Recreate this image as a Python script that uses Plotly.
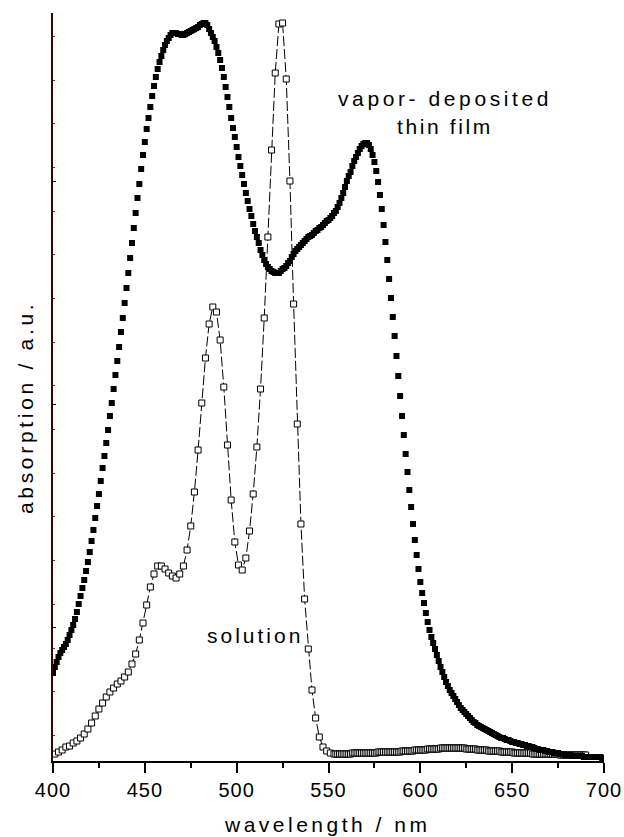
import plotly.graph_objects as go

# Absorption spectra, absorbance in milli-units (a.u.)
film_nm = list(range(400, 701))
film_abs = [
    88, 94, 99, 104, 108, 111, 114, 117, 121, 126,
    131, 136, 142, 149, 157, 165, 173, 181, 190, 199,
    209, 220, 231, 243, 255, 267, 280, 293, 305, 318,
    331, 345, 358, 372, 386, 400, 414, 429, 443, 458,
    473, 488, 503, 518, 533, 548, 563, 577, 592, 606,
    619, 632, 643, 654, 665, 675, 684, 692, 699, 705,
    711, 716, 720, 723, 726, 728, 728, 728, 727, 727,
    726, 726, 727, 728, 729, 730, 731, 732, 733, 734,
    736, 737, 738, 738, 736, 732, 728, 724, 720, 714,
    708, 701, 693, 684, 674, 664, 654, 643, 633, 624,
    614, 604, 595, 586, 577, 568, 560, 552, 545, 537,
    530, 524, 518, 511, 506, 501, 497, 494, 492, 490,
    489, 488, 488, 488, 490, 492, 493, 495, 498, 500,
    504, 507, 510, 512, 514, 516, 518, 520, 522, 524,
    525, 526, 528, 530, 531, 533, 534, 536, 538, 540,
    541, 543, 545, 548, 550, 554, 558, 563, 568, 574,
    580, 585, 589, 595, 600, 604, 608, 612, 615, 617,
    618, 618, 616, 612, 606, 599, 590, 579, 566, 552,
    536, 519, 501, 482, 463, 444, 425, 405, 385, 365,
    345, 326, 307, 289, 271, 254, 237, 221, 206, 192,
    179, 168, 158, 148, 139, 131, 124, 118, 112, 106,
    100, 94, 89, 84, 79, 75, 71, 68, 65, 62,
    59, 56, 53, 51, 49, 47, 45, 43, 41, 39,
    38, 36, 35, 34, 33, 32, 31, 30, 29, 28,
    27, 26, 25, 24, 23, 23, 22, 21, 21, 20,
    19, 19, 18, 18, 17, 17, 16, 16, 15, 15,
    14, 14, 13, 12, 12, 11, 11, 11, 10, 10,
    9, 9, 9, 8, 8, 8, 7, 7, 7, 6,
    6, 6, 6, 5, 5, 5, 5, 5, 5, 4,
    4, 4, 4, 4, 4, 4, 4, 4, 4, 3,
    3,
]

# Solution: 2 nm steps through the bands, 1 nm steps in the red tail
sol_nm = list(range(401, 553, 2)) + list(range(553, 701))
sol_abs = [
    7, 9, 11, 14, 15, 18, 20, 23, 27, 32,
    38, 45, 52, 58, 64, 69, 73, 77, 80, 84,
    89, 97, 107, 121, 138, 156, 174, 187, 195, 195,
    192, 188, 185, 183, 187, 195, 211, 235, 269, 311,
    358, 403, 437, 454, 449, 421, 374, 316, 261, 219,
    196, 191, 203, 230, 267, 314, 372, 443, 524, 611,
    688, 737, 738, 682, 580, 457, 337, 237, 162, 112,
    71, 43, 24, 14, 10, 8,
    # 553 - 700
    7, 7, 7, 7, 7, 7, 7, 7, 7, 7,
    8, 8, 8, 8, 8, 8, 8, 8, 8, 8,
    8, 8, 8, 8, 9, 9, 9, 9, 9, 9,
    9, 9, 9, 9, 9, 9, 9, 10, 10, 10,
    10, 10, 10, 10, 11, 11, 11, 11, 11, 11,
    11, 12, 12, 12, 12, 12, 12, 12, 13, 13,
    13, 13, 13, 13, 13, 13, 13, 13, 13, 13,
    13, 13, 12, 12, 12, 12, 12, 12, 11, 11,
    11, 11, 11, 11, 10, 10, 10, 10, 10, 10,
    10, 9, 9, 9, 9, 9, 9, 9, 8, 8,
    8, 8, 8, 8, 8, 8, 8, 8, 7, 7,
    7, 7, 7, 7, 7, 7, 7, 7, 7, 7,
    7, 7, 7, 6, 6, 6, 6, 6, 6, 6,
    6, 6, 6, 6, 6, 6, 6, 6,
]

x_ticks = [400, 450, 500, 550, 600, 650, 700]
x_minor = [425, 475, 525, 575, 625, 675]
y_major = [134, 357, 580]
y_minor = [26, 70, 113, 157, 201, 245, 288, 332, 376, 419, 463, 507, 550, 594, 638, 681, 725]

FONT = "Liberation Sans, Arial, Helvetica, sans-serif"


def spaced(text, px):
    return f'<span style="letter-spacing:{px}px">{text}</span>'


fig = go.Figure()

fig.add_trace(go.Scatter(
    x=sol_nm, y=sol_abs, mode="lines+markers",
    line=dict(color="black", width=1, dash="10px,3px"),
    marker=dict(symbol="square", size=6, color="white",
                line=dict(color="black", width=1)),
    showlegend=False,
))

fig.add_trace(go.Scatter(
    x=film_nm, y=film_abs, mode="markers",
    marker=dict(symbol="square", size=6, color="black", line=dict(width=0)),
    showlegend=False,
))

fig.update_layout(
    width=624, height=837,
    margin=dict(l=53, r=20, t=13, b=76),
    paper_bgcolor="white", plot_bgcolor="white",
    font=dict(family=FONT, color="black", size=20),
    xaxis=dict(
        range=[400, 700], showgrid=False, zeroline=False, automargin=False,
        showline=True, linecolor="black", linewidth=2,
        tickmode="array", tickvals=x_ticks,
        ticktext=[spaced(str(v), 1) for v in x_ticks],
        ticks="outside", ticklen=10, tickwidth=1.5, tickcolor="black",
        tickfont=dict(size=20, family=FONT),
        minor=dict(tickvals=x_minor, ticks="outside", ticklen=5,
                   tickwidth=1.5, tickcolor="black"),
    ),
    yaxis=dict(
        range=[0, 748], showgrid=False, zeroline=False, automargin=False,
        showline=True, linecolor="#2e0606", linewidth=2,
        tickmode="array", tickvals=y_major, showticklabels=False,
        ticks="inside", ticklen=3, tickwidth=1, tickcolor="black",
        minor=dict(tickvals=y_minor, ticks="inside", ticklen=2,
                   tickwidth=1, tickcolor="#e00000"),
    ),
)

ann = dict(xref="paper", yref="paper", showarrow=False,
           font=dict(family=FONT, size=21, color="black"))

fig.add_annotation(text=spaced("wavelength / nm", 3.5), x=0.497, y=-0.085,
                   xanchor="center", yanchor="middle", **ann)
fig.add_annotation(text=spaced("absorption / a.u.", 3.7), x=-0.051, y=0.473,
                   xanchor="center", yanchor="middle", textangle=-90, **ann)
fig.add_annotation(text=spaced("vapor- deposited", 3.6), x=0.711, y=0.886,
                   xanchor="center", yanchor="middle", **ann)
fig.add_annotation(text=spaced("thin film", 2.6), x=0.711, y=0.848,
                   xanchor="center", yanchor="middle", **ann)
fig.add_annotation(text=spaced("solution", 3), x=0.366, y=0.168,
                   xanchor="center", yanchor="middle", **ann)

fig.write_html("out.html")
